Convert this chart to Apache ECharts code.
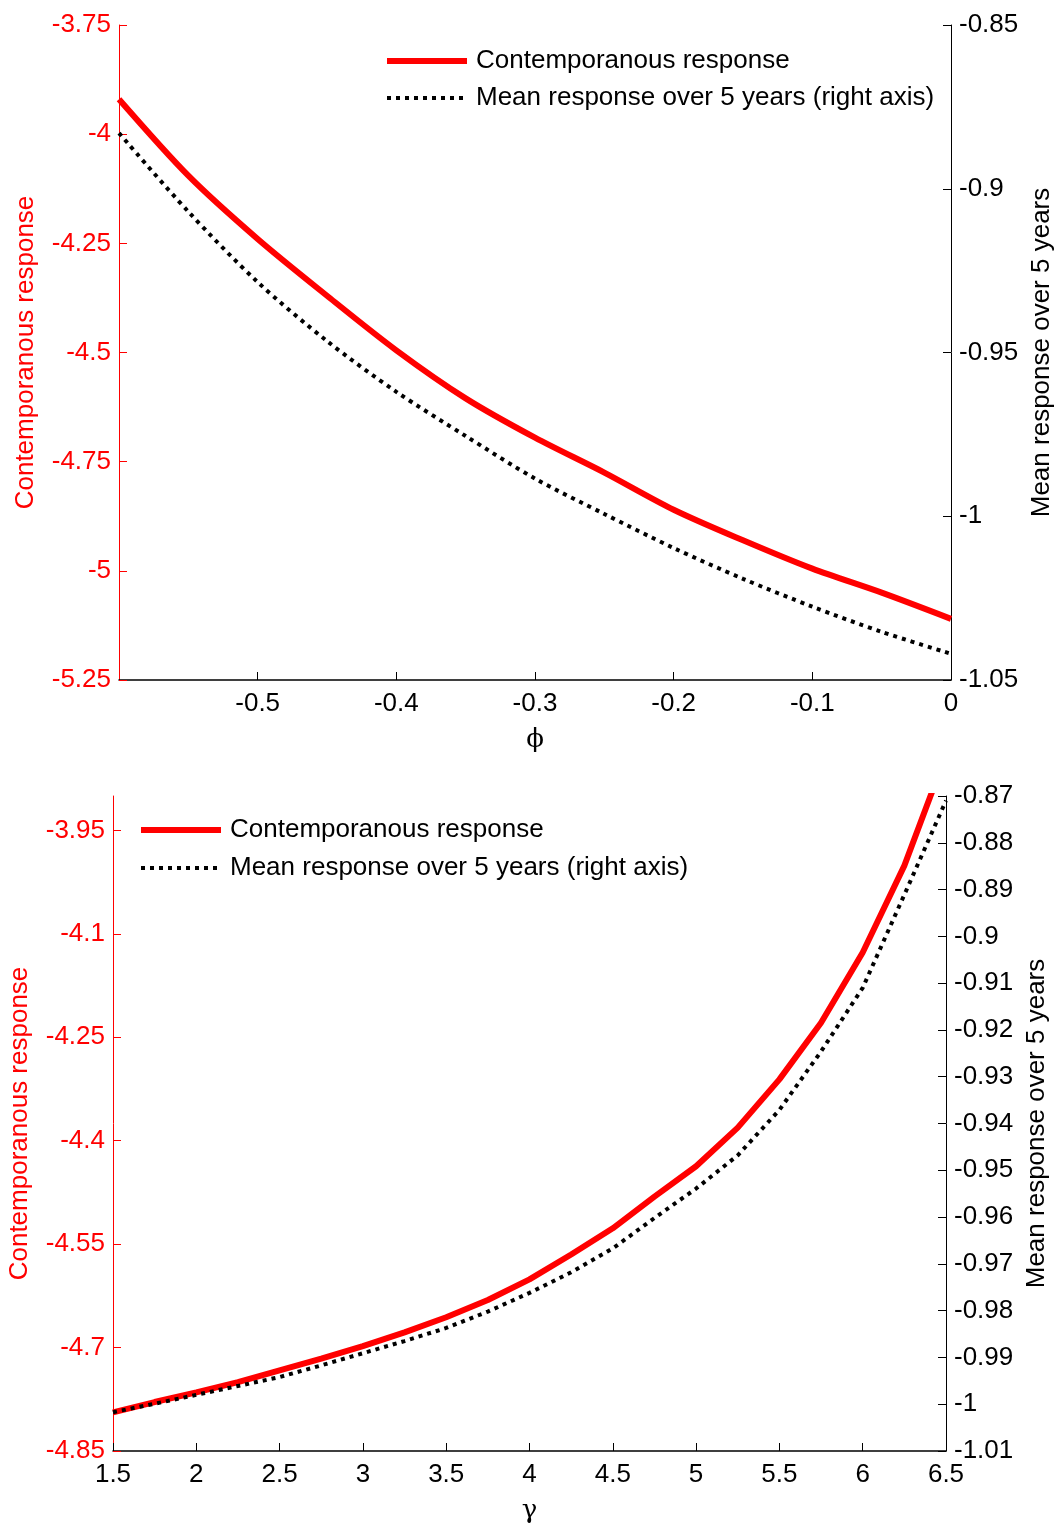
<!DOCTYPE html>
<html>
<head>
<meta charset="utf-8">
<script src="https://cdn.jsdelivr.net/npm/echarts@6.0.0/dist/echarts.min.js"></script>
<style>
  html, body { margin: 0; padding: 0; background: #fff; }
  #chart { width: 1057px; height: 1523px; }
</style>
</head>
<body>
<div id="chart"></div>
<script>
// top panel: response against phi
var phi = [-0.6, -0.55, -0.5, -0.45, -0.4, -0.35, -0.3, -0.25, -0.2, -0.15, -0.1, -0.05, 0];
var phiContemp = [-3.92, -4.095, -4.24, -4.37, -4.495, -4.605, -4.695, -4.775, -4.86, -4.93, -4.995, -5.05, -5.11];
var phiMean = [-0.883, -0.907, -0.9285, -0.9465, -0.962, -0.9755, -0.9885, -0.9993, -1.0097, -1.0191, -1.0276, -1.0353, -1.042];

// bottom panel: response against gamma
var gamma = [1.5, 1.75, 2, 2.25, 2.5, 2.75, 3, 3.25, 3.5, 3.75, 4, 4.25, 4.5, 4.75, 5, 5.25, 5.5, 5.75, 6, 6.25, 6.5];
var gammaContemp = [-4.794, -4.779, -4.765, -4.75, -4.733, -4.716, -4.698, -4.678, -4.656, -4.631, -4.601, -4.565, -4.527, -4.481, -4.437, -4.381, -4.311, -4.229, -4.127, -4.001, -3.84];
var gammaMean = [-1.0017, -0.9999, -0.998, -0.9961, -0.9942, -0.9917, -0.9891, -0.9865, -0.9837, -0.9802, -0.9762, -0.9718, -0.9667, -0.9602, -0.9539, -0.9468, -0.9371, -0.9246, -0.911, -0.8911, -0.871];

var nameA = 'Contemporanous response';
var nameB = 'Mean response over 5 years (right axis)';
var font = "'Liberation Sans', Arial, sans-serif";
var fs = 26;

function pairs(xs, ys) {
    var out = [];
    for (var i = 0; i < xs.length; i++) {
        out.push([xs[i], ys[i]]);
    }
    return out;
}

function xAxisOpt(idx, min, max, step, name, hideMin) {
    return {
        type: 'value', gridIndex: idx, min: min, max: max, interval: step,
        name: name, nameLocation: 'middle', nameGap: 47,
        nameTextStyle: {color: '#000', fontSize: fs, fontFamily: 'DejaVu Serif'},
        axisLine: {onZero: false, lineStyle: {color: '#000', width: 1.5}},
        axisTick: {inside: true, length: 8, lineStyle: {color: '#000'}},
        axisLabel: {color: '#000', fontSize: fs, fontFamily: font, margin: 11, showMinLabel: !hideMin},
        splitLine: {show: false}
    };
}

function yAxisOpt(idx, pos, min, max, step, name, color, gap, hideMax) {
    return {
        type: 'value', gridIndex: idx, position: pos, min: min, max: max, interval: step,
        name: name, nameLocation: 'middle', nameGap: gap, nameRotate: 90,
        nameTextStyle: {color: color, fontSize: fs, fontFamily: font},
        axisLine: {show: true, onZero: false, lineStyle: {color: color, width: 1}},
        axisTick: {show: true, inside: true, length: 8, lineStyle: {color: color}},
        axisLabel: {color: color, fontSize: fs, fontFamily: font, margin: 8, showMaxLabel: !hideMax},
        splitLine: {show: false}
    };
}

var redStyle = {color: '#ff0000', width: 6};
var dotStyle = {color: '#000', width: 4, type: [4, 5], cap: 'butt'};

function legendOpt(left, top, gap) {
    return {
        data: [nameA, nameB], orient: 'vertical', left: left, top: top, padding: 0,
        itemWidth: 80, itemHeight: 24, itemGap: gap,
        itemStyle: {opacity: 0},
        lineStyle: {width: 'inherit', type: 'inherit'},
        textStyle: {fontSize: fs, color: '#000', fontFamily: font, padding: [0, 0, 0, 4]}
    };
}

var chart = echarts.init(document.getElementById('chart'));
chart.setOption({
    animation: false,
    backgroundColor: '#fff',
    grid: [
        {left: 119, right: 106, top: 25, height: 655, outerBoundsMode: 'none'},
        {left: 113, right: 111, top: 796, height: 655, outerBoundsMode: 'none'}
    ],
    legend: [legendOpt(384, 48, 11), legendOpt(138, 817, 12)],
    xAxis: [
        xAxisOpt(0, -0.6, 0, 0.1, 'ϕ', true),
        xAxisOpt(1, 1.5, 6.5, 0.5, 'γ', false)
    ],
    yAxis: [
        yAxisOpt(0, 'left', -5.25, -3.75, 0.25, 'Contemporanous response', '#ff0000', 80, false),
        yAxisOpt(0, 'right', -1.05, -0.85, 0.05, 'Mean response over 5 years', '#000', 78, false),
        yAxisOpt(1, 'left', -4.85, -3.9, 0.15, 'Contemporanous response', '#ff0000', 80, true),
        yAxisOpt(1, 'right', -1.01, -0.87, 0.01, 'Mean response over 5 years', '#000', 74, false)
    ],
    series: [
        {
            name: nameA, type: 'line', xAxisIndex: 0, yAxisIndex: 0, symbol: 'none', smooth: 0.3,
            color: '#ff0000', lineStyle: redStyle, data: pairs(phi, phiContemp)
        },
        {
            name: nameB, type: 'line', xAxisIndex: 0, yAxisIndex: 1, symbol: 'none', smooth: 0.3,
            color: '#000', lineStyle: dotStyle, data: pairs(phi, phiMean)
        },
        {
            name: nameA, type: 'line', xAxisIndex: 1, yAxisIndex: 2, symbol: 'none',
            color: '#ff0000', lineStyle: redStyle, data: pairs(gamma, gammaContemp)
        },
        {
            name: nameB, type: 'line', xAxisIndex: 1, yAxisIndex: 3, symbol: 'none',
            color: '#000', lineStyle: dotStyle, data: pairs(gamma, gammaMean)
        }
    ]
});
</script>
</body>
</html>
